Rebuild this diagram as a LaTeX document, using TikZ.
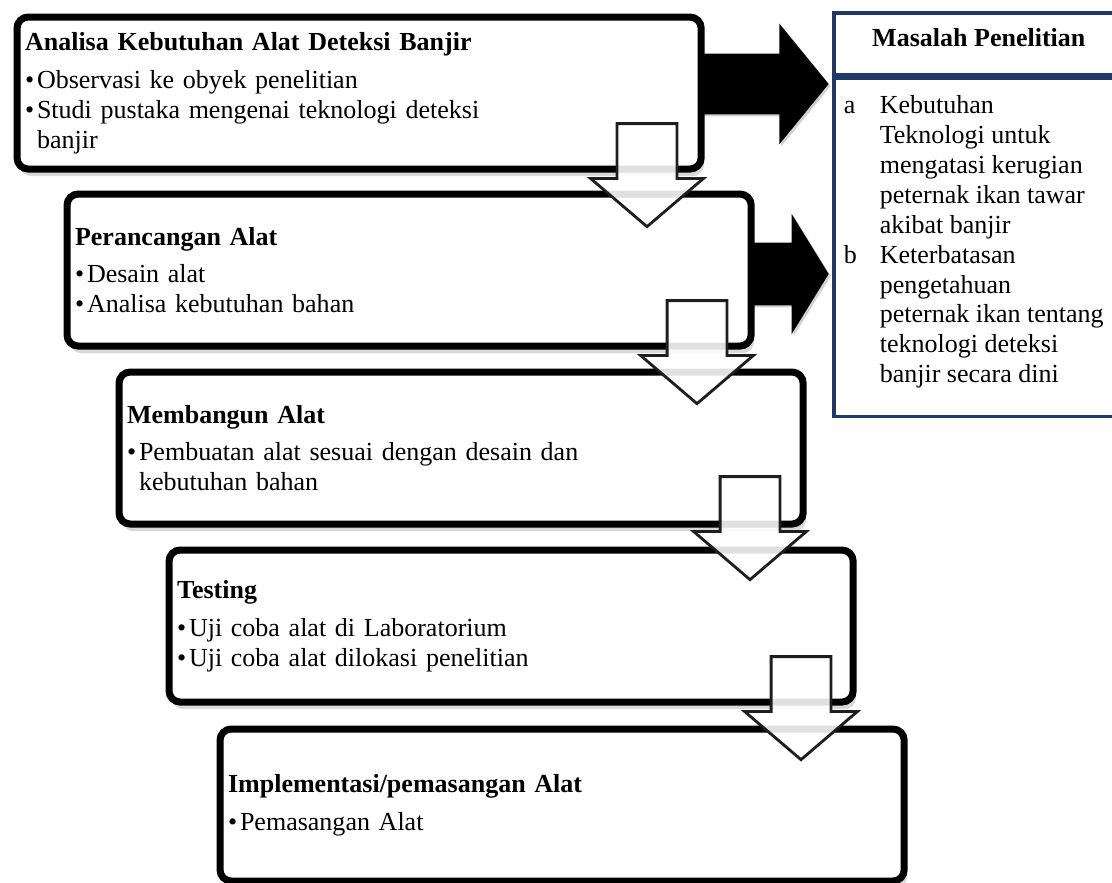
\documentclass[tikz,border=0pt]{standalone}
\usepackage{fontspec}
\setmainfont{Liberation Serif}
\usetikzlibrary{shapes.arrows, shadows}
\definecolor{mBlue}{RGB}{32,56,100}
\definecolor{mInk}{RGB}{30,30,30}
\newcommand{\Td}[2]{\textbf{#1}\\[5.5pt]#2}
\newcommand{\Bt}{\makebox[0.3cm][l]{\textbullet}}
\tikzset{
  tahap/.style={draw, line width=5pt, rounded corners=8pt, fill=white, anchor=north west,
                align=left, text width=16.7cm, inner xsep=0.2cm, minimum height=3.8cm,
                drop shadow={shadow xshift=2pt, shadow yshift=-5pt, opacity=0.3}},
  masalah/.style={draw=mBlue, line width=2.5pt, fill=white, anchor=north west, minimum width=7.25cm},
  panah/.style={single arrow, fill=black, minimum width=3cm, anchor=tip,
                drop shadow={shadow xshift=1.5pt, shadow yshift=-1.5pt, opacity=0.35}},
  turun/.style={single arrow, shape border rotate=270, draw=mInk, line width=2pt, fill=white,
                fill opacity=0.88, inner sep=0.7125cm, minimum width=2.75cm, minimum height=2.575cm,
                single arrow head extend=0.6625cm, single arrow tip angle=99, anchor=tip},
}
\begin{document}
\begin{tikzpicture}[x=0.025cm, y=-0.025cm, font=\fontsize{18.5pt}{21.3pt}\selectfont]
    \useasboundingbox (0,0) rectangle (1112,882);
    % panah ke masalah penelitian
    \node[panah, inner sep=0.75cm, minimum height=3.425cm, single arrow head extend=0.75cm, single arrow tip angle=101.5] (pa) at (829,84) {};
    \node[panah, inner sep=0.775cm, minimum height=2.175cm, single arrow head extend=0.725cm, single arrow tip angle=116.7] (pb) at (829,274) {};
    \node[tahap] (analisa) at (13.5,13.5) {\Td{Analisa Kebutuhan Alat Deteksi Banjir}{\Bt Observasi ke obyek penelitian\\\Bt Studi pustaka mengenai teknologi deteksi\\\hspace*{0.3cm}banjir}};
    \node[tahap] (rancang) at (63.5,190.5) {\Td{Perancangan Alat}{\Bt Desain alat\\\Bt Analisa kebutuhan bahan}};
    \node[tahap] (bangun) at (115.5,368.5) {\Td{Membangun Alat}{\Bt Pembuatan alat sesuai dengan desain dan\\\hspace*{0.3cm}kebutuhan bahan}};
    \node[tahap] (uji) at (165.5,546.5) {\Td{Testing}{\Bt Uji coba alat di Laboratorium\\\Bt Uji coba alat dilokasi penelitian}};
    \node[tahap] (pasang) at (216.5,725.5) {\Td{Implementasi/pemasangan Alat}{\Bt Pemasangan Alat}};
    \node[masalah, minimum height=1.55cm, text depth=0.3cm] (mhead) at (832,11) {\textbf{Masalah Penelitian}};
    \node[masalah, minimum height=8.45cm, inner xsep=0.25cm, text height=0.525cm, text depth=7.225cm] (mbody) at (mhead.south west) {%
      \begin{tabular}[t]{@{}p{0.9cm}@{}p{5.85cm}@{}}
        a & Kebutuhan\\
          & Teknologi untuk\\
          & mengatasi kerugian\\
          & peternak ikan tawar\\
          & akibat banjir\\
        b & Keterbatasan\\
          & pengetahuan\\
          & peternak ikan tentang\\
          & teknologi deteksi\\
          & banjir secara dini
      \end{tabular}};
    % panah antar tahap
    \node[turun] (da) at (647,228.5) {};
    \node[turun] (db) at (697,405.5) {};
    \node[turun] (dc) at (750,581.5) {};
    \node[turun] (dd) at (801,761.5) {};
\end{tikzpicture}
\end{document}
